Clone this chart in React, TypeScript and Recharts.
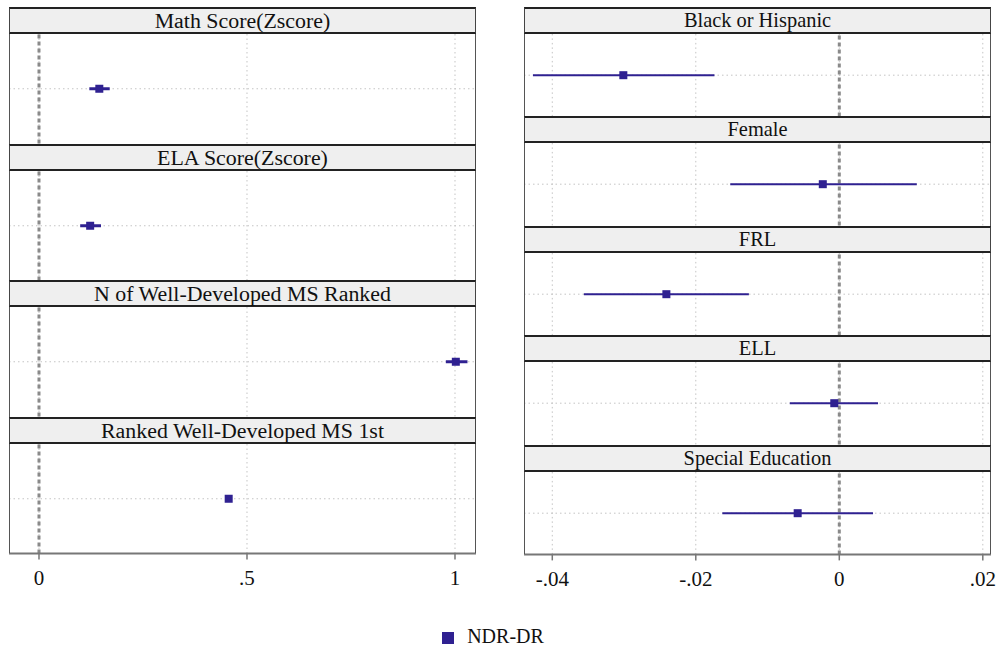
import React from 'react';
import { ScatterChart, Scatter, ErrorBar, XAxis, YAxis, ReferenceLine, Legend } from 'recharts';

const COLOR = '#2f2191';
const FONT = "'Liberation Serif', 'Times New Roman', Times, serif";

// Left column (outcomes)
const leftLabels = ['Math Score(Zscore)', 'ELA Score(Zscore)', 'N of Well-Developed MS Ranked', 'Ranked Well-Developed MS 1st'];
const leftEst = [0.145, 0.123, 1.002, 0.456];
const leftLow = [0.121, 0.099, 0.978, 0.449];
const leftHigh = [0.170, 0.149, 1.030, 0.463];
const leftTicks = [0, 0.5, 1];
const leftTickLabels = ['0', '.5', '1'];
const leftDomain: [number, number] = [-0.0721, 1.0505];

// Right column (characteristics)
const rightLabels = ['Black or Hispanic', 'Female', 'FRL', 'ELL', 'Special Education'];
const rightEst = [-0.0301, -0.0023, -0.0241, -0.0007, -0.0058];
const rightLow = [-0.0427, -0.0152, -0.0356, -0.0069, -0.0163];
const rightHigh = [-0.0174, 0.0108, -0.0126, 0.0054, 0.0047];
const rightTicks = [-0.04, -0.02, 0, 0.02];
const rightTickLabels = ['-.04', '-.02', '0', '.02'];
const rightDomain: [number, number] = [-0.04394, 0.02114];

const seriesName = 'NDR-DR';

const Square = (props: any) => {
  const { cx, cy } = props;
  if (cx == null || cy == null) return null;
  return <rect x={cx - 4} y={cy - 4} width={8} height={8} fill={COLOR} />;
};

type PanelProps = {
  label: string; est: number; low: number; high: number;
  domain: [number, number]; ticks: number[]; tickLabels: string[];
  x: number; top: number; width: number; stripH: number; plotH: number;
  showAxis: boolean; lineW: number; stripFont: number;
};

function Panel(p: PanelProps) {
  const data = [{ x: p.est, y: 0.5, err: [p.est - p.low, p.high - p.est] }];
  const axisH = p.showAxis ? 45 : 0;
  const pad = 20;
  return (
    <>
      <div style={{ position: 'absolute', left: p.x - pad, top: p.top + p.stripH, width: p.width + 2 * pad, height: p.plotH + axisH }}>
        <ScatterChart width={p.width + 2 * pad} height={p.plotH + axisH} margin={{ top: 0, right: pad, bottom: 0, left: pad }}>
          <XAxis
            type="number"
            dataKey="x"
            domain={p.domain}
            allowDataOverflow
            ticks={p.ticks}
            interval={0}
            hide={!p.showAxis}
            height={axisH}
            tickFormatter={(v: number) => p.tickLabels[p.ticks.indexOf(v)] ?? String(v)}
            tick={{ fill: '#111', fontSize: 21, fontFamily: FONT }}
            tickSize={6}
            tickMargin={11}
            axisLine={{ stroke: '#777', strokeWidth: 2 }}
            tickLine={{ stroke: '#777', strokeWidth: 1.5 }}
          />
          <YAxis type="number" dataKey="y" domain={[0, 1]} hide />
          {p.ticks.map((t) => (
            <ReferenceLine key={t} x={t} stroke="#c4c4c4" strokeDasharray="1.5 3" strokeWidth={1} />
          ))}
          <ReferenceLine y={0.5} stroke="#c4c4c4" strokeDasharray="1.5 3" strokeWidth={1} />
          <ReferenceLine x={0} stroke="#8a8a8a" strokeWidth={3} strokeDasharray="4 3" />
          <Scatter name={seriesName} data={data} fill={COLOR} shape={Square} isAnimationActive={false}>
            <ErrorBar dataKey="err" direction="x" width={0} stroke={COLOR} strokeWidth={p.lineW} isAnimationActive={false} />
          </Scatter>
        </ScatterChart>
      </div>
      <div
        style={{
          position: 'absolute', left: p.x, top: p.top + p.stripH, width: p.width, height: p.plotH,
          boxSizing: 'border-box', borderLeft: '1.5px solid #555', borderRight: '1.5px solid #555',
          pointerEvents: 'none',
        }}
      />
      <div
        style={{
          position: 'absolute', left: p.x, top: p.top, width: p.width, height: p.stripH,
          boxSizing: 'border-box', background: '#efefef',
          borderTop: '2px solid #222', borderBottom: '2px solid #222',
          borderLeft: '1.5px solid #444', borderRight: '1.5px solid #444',
          textAlign: 'center', fontFamily: FONT, fontSize: p.stripFont, color: '#111',
          lineHeight: `${p.stripH - 4}px`, whiteSpace: 'nowrap',
        }}
      >
        {p.label}
      </div>
    </>
  );
}

export default function App() {
  const leftX = 9, rightX = 524, colW = 467;
  const leftPanelH = 136.5, rightPanelH = 109.4, stripH = 27, top0 = 7;
  return (
    <div style={{ position: 'absolute', left: 0, top: 0, width: 996, height: 648, background: '#fff', overflow: 'hidden', fontFamily: FONT }}>
      {leftLabels.map((l, i) => (
        <Panel
          key={l}
          label={l}
          est={leftEst[i]} low={leftLow[i]} high={leftHigh[i]}
          domain={leftDomain} ticks={leftTicks} tickLabels={leftTickLabels}
          x={leftX} top={top0 + i * leftPanelH} width={colW}
          stripH={stripH} plotH={leftPanelH - stripH}
          showAxis={i === leftLabels.length - 1} lineW={3} stripFont={21.9}
        />
      ))}
      {rightLabels.map((l, i) => (
        <Panel
          key={l}
          label={l}
          est={rightEst[i]} low={rightLow[i]} high={rightHigh[i]}
          domain={rightDomain} ticks={rightTicks} tickLabels={rightTickLabels}
          x={rightX} top={top0 + i * rightPanelH} width={colW}
          stripH={stripH} plotH={rightPanelH - stripH}
          showAxis={i === rightLabels.length - 1} lineW={2} stripFont={20.4}
        />
      ))}
      <div style={{ position: 'absolute', left: 0, top: 623, width: 996, height: 25 }}>
        <ScatterChart width={996} height={25} margin={{ top: 0, right: 0, bottom: 0, left: 0 }}>
          <XAxis type="number" dataKey="x" hide domain={[0, 1]} />
          <YAxis type="number" dataKey="y" hide domain={[0, 1]} />
          <Scatter name={seriesName} data={[]} fill={COLOR} legendType="square" isAnimationActive={false} />
          <Legend
            verticalAlign="top"
            align="center"
            iconSize={12}
            wrapperStyle={{ top: 2, fontFamily: FONT, fontSize: 20 }}
            formatter={(value: string) => <span style={{ color: '#111', marginLeft: 9, fontFamily: FONT }}>{value}</span>}
          />
        </ScatterChart>
      </div>
    </div>
  );
}
